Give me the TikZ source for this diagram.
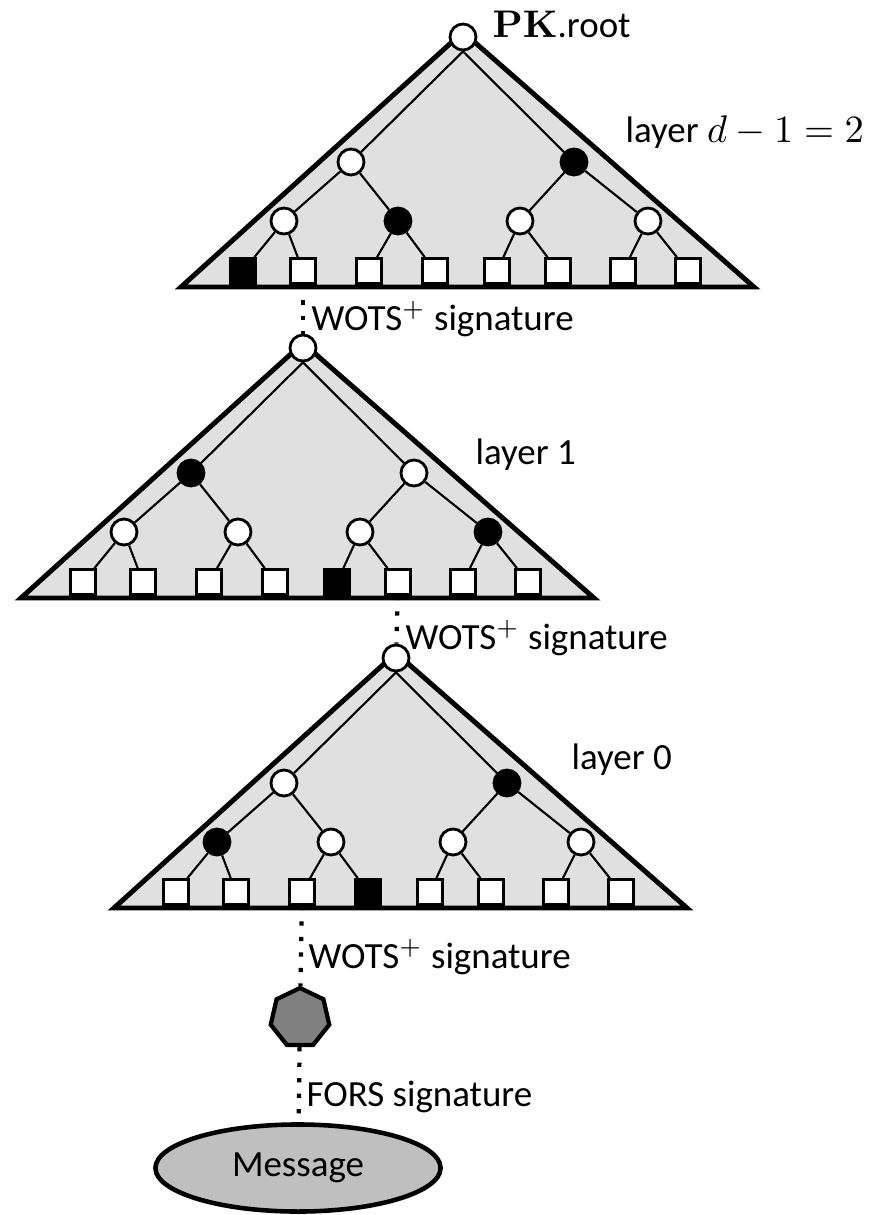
\documentclass[tikz,border=0pt]{standalone}
\usepackage[no-math]{fontspec}
\setmainfont{Carlito}
\usetikzlibrary{shapes.geometric}

\tikzset{
    hyper/.style={draw, line width=1.4pt, fill=black!12},
    wnode/.style={circle, draw, fill=white, line width=0.8pt, minimum size=0.26cm, inner sep=0pt},
    bnode/.style={wnode, fill=black},
    wleaf/.style={rectangle, draw, fill=white, line width=0.8pt, minimum size=0.25cm, inner sep=0pt},
    bleaf/.style={wleaf, fill=black},
    tedge/.style={line width=0.6pt},
    sigline/.style={line width=1.2pt, dash pattern=on 1.2pt off 3.2pt},
    lbl/.style={anchor=west, inner sep=0pt, font=\fontsize{10.5}{12}\selectfont},
    forsnode/.style={regular polygon, regular polygon sides=7, draw, line width=1.2pt, fill=black!50, minimum size=0.6cm, inner sep=0pt},
    msgnode/.style={ellipse, draw, line width=1.3pt, fill=black!25, minimum width=2.85cm, minimum height=0.87cm, font=\fontsize{10.5}{12}\selectfont},
}

% one layer of the hypertree: #1 name, #2 root, #3 signing leaf
\newcommand{\layertree}[3]{
    \pgfmathtruncatemacro{\authb}{int(#3/2)+1-2*mod(int(#3/2),2)}
    \pgfmathtruncatemacro{\autha}{1-int(#3/4)}
    \begin{scope}[shift={#2}]
        \draw[hyper] (0,-5) -- (-282,250) -- (291,250) -- cycle;
        \node[wnode] (#1) at (0,0) {};
        \foreach \x [count=\i from 0] in {-112,111} {
            \ifnum\i=\autha\relax \def\sty{bnode}\else \def\sty{wnode}\fi
            \node[\sty] (#1-a\i) at (\x,125) {};
        }
        \foreach \x [count=\i from 0] in {-179,-65,57,185} {
            \ifnum\i=\authb\relax \def\sty{bnode}\else \def\sty{wnode}\fi
            \node[\sty] (#1-b\i) at (\x,184) {};
        }
        \foreach \x [count=\i from 0] in {-220,-160,-94,-28,34,95,160,225} {
            \ifnum\i=#3\relax \def\sty{bleaf}\else \def\sty{wleaf}\fi
            \node[\sty] (#1-c\i) at (\x,234) {};
        }
    \end{scope}
    \foreach \i in {0,1}
        \draw[tedge] (#1.south) -- (#1-a\i);
    \foreach \i in {0,...,3} {
        \pgfmathtruncatemacro{\up}{int(\i/2)}
        \draw[tedge] (#1-a\up) -- (#1-b\i);
    }
    \foreach \i in {0,...,7} {
        \pgfmathtruncatemacro{\up}{int(\i/2)}
        \draw[tedge] (#1-b\up) -- (#1-c\i);
    }
}

\begin{document}
\begin{tikzpicture}[x=0.01cm, y=-0.01cm]
    \useasboundingbox (0,0) rectangle (885,1215);

    \layertree{t2}{(463,37)}{0}
    \layertree{t1}{(303,348)}{4}
    \layertree{t0}{(396,658)}{3}

    \node[lbl] (pk) at (492,24) {$\mathbf{PK}$.root};
    \node[lbl] (lay2) at (625,132) {layer $d-1=2$};
    \node[lbl] (lay1) at (475,455) {layer 1};
    \node[lbl] (lay0) at (571,760) {layer 0};

    \node[forsnode] (fors) at (300,1018) {};
    \node[msgnode] (msg) at (298,1168) {Message};

    % signatures between the layers
    \draw[sigline] (t2-c1) -- (t1);
    \draw[sigline] (t1-c5) -- (t0);
    \draw[sigline] (t0-c2) -- (fors);
    \draw[sigline] (fors) -- (msg);

    \node[lbl] (sig2) at (311,319) {WOTS$^+$ signature};
    \node[lbl] (sig1) at (405,638) {WOTS$^+$ signature};
    \node[lbl] (sig0) at (308,957) {WOTS$^+$ signature};
    \node[lbl] (forssig) at (306,1097) {FORS signature};
\end{tikzpicture}
\end{document}
